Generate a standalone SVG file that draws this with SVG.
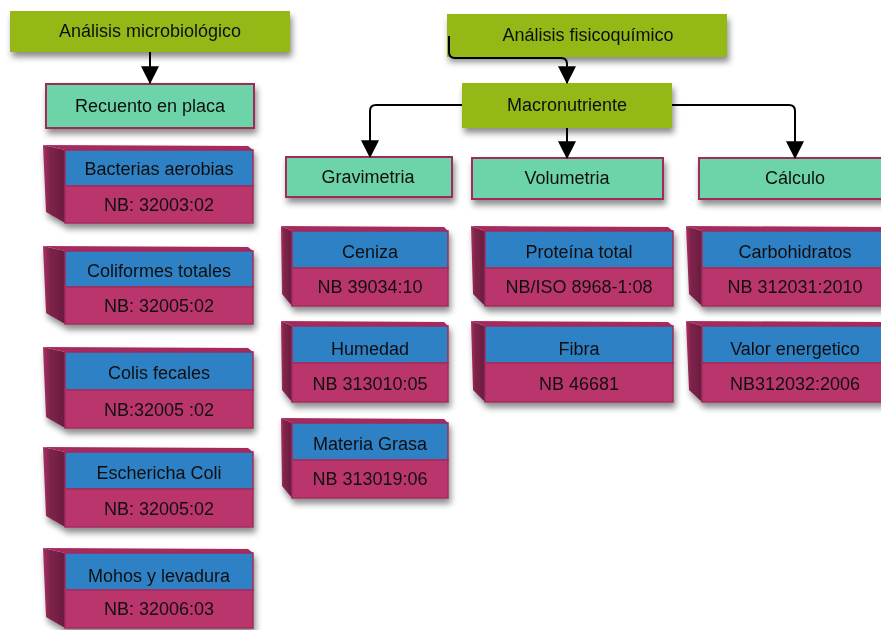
<svg xmlns="http://www.w3.org/2000/svg" width="881" height="630" viewBox="0 0 881 630">
  <defs>
    <filter id="shadow" x="-10%" y="-20%" width="125%" height="150%">
      <feDropShadow dx="2" dy="5" stdDeviation="3" flood-color="#000" flood-opacity="0.45"/>
    </filter>
    <linearGradient id="sideGrad" x1="0" y1="0" x2="1" y2="0">
      <stop offset="0" stop-color="#a8305f"/>
      <stop offset="0.35" stop-color="#7c2249"/>
      <stop offset="1" stop-color="#6a1d41"/>
    </linearGradient>
    <marker id="arrow" markerUnits="userSpaceOnUse" markerWidth="18" markerHeight="18" viewBox="0 0 16 16" refX="15" refY="8" orient="auto">
      <path d="M0,0 L16,8 L0,16 Z" fill="#000"/>
    </marker>
    <style>
      text { font-family: "Liberation Sans", Arial, sans-serif; fill: #111; text-anchor: middle; }
      .lbl { font-size: 18px; }
      .big { font-size: 18px; }
      .green { fill: #94b817; }
      .teal { fill: #6dd3a8; stroke: #a02c5c; stroke-width: 2; }
      .blue { fill: #2e81c4; stroke: #a02c5c; stroke-width: 1.5; }
      .pink { fill: #ba356c; stroke: #a02c5c; stroke-width: 1.5; }
      .side { fill: url(#sideGrad); }
      .top { fill: #a72c5f; }
      .link { fill: none; stroke: #000; stroke-width: 2; }
    </style>
  </defs>

  <!-- header boxes -->
  <g id="micro" filter="url(#shadow)">
    <rect class="green" x="10" y="11" width="280" height="41"/>
    <text class="lbl" x="150" y="37">Análisis microbiológico</text>
  </g>
  <g id="fisico" filter="url(#shadow)">
    <rect class="green" x="447" y="14" width="280" height="43"/>
    <text class="lbl" x="588" y="41">Análisis fisicoquímico</text>
  </g>
  <g id="macro" filter="url(#shadow)">
    <rect class="green" x="462" y="83" width="210" height="45"/>
    <text class="lbl" x="567" y="111">Macronutriente</text>
  </g>

  <!-- method boxes -->
  <g id="recuento" filter="url(#shadow)">
    <rect class="teal" x="46" y="84" width="208" height="44"/>
    <text class="lbl" x="150" y="112">Recuento en placa</text>
  </g>
  <g id="gravimetria" filter="url(#shadow)">
    <rect class="teal" x="286" y="157" width="166" height="40"/>
    <text class="lbl" x="368" y="183">Gravimetria</text>
  </g>
  <g id="volumetria" filter="url(#shadow)">
    <rect class="teal" x="472" y="158" width="191" height="41"/>
    <text class="lbl" x="567" y="184">Volumetria</text>
  </g>
  <g id="calculo" filter="url(#shadow)">
    <rect class="teal" x="699" y="158" width="194" height="41"/>
    <text class="lbl" x="795" y="184">Cálculo</text>
  </g>

  <!-- microbiological tests -->
  <g id="bacterias" filter="url(#shadow)">
    <polygon class="side" points="43,145 65,150 65,223 46,212"/>
    <polygon class="top" points="43,145 248,146 253,150 65,150"/>
    <rect class="blue" x="65" y="150" width="188" height="36"/>
    <rect class="pink" x="65" y="186" width="188" height="37"/>
    <text class="big" x="159" y="175">Bacterias aerobias</text>
    <text class="big" x="159" y="211">NB: 32003:02</text>
  </g>
  <g id="coliformes" filter="url(#shadow)">
    <polygon class="side" points="43,246 65,251 65,324 46,313"/>
    <polygon class="top" points="43,246 248,247 253,251 65,251"/>
    <rect class="blue" x="65" y="251" width="188" height="36"/>
    <rect class="pink" x="65" y="287" width="188" height="37"/>
    <text class="big" x="159" y="277">Coliformes totales</text>
    <text class="big" x="159" y="312">NB: 32005:02</text>
  </g>
  <g id="fecales" filter="url(#shadow)">
    <polygon class="side" points="43,347 65,352 65,428 46,417"/>
    <polygon class="top" points="43,347 248,348 253,352 65,352"/>
    <rect class="blue" x="65" y="352" width="188" height="38"/>
    <rect class="pink" x="65" y="390" width="188" height="38"/>
    <text class="big" x="159" y="379">Colis fecales</text>
    <text class="big" x="159" y="416">NB:32005 :02</text>
  </g>
  <g id="escherichia" filter="url(#shadow)">
    <polygon class="side" points="43,447 65,452 65,527 46,516"/>
    <polygon class="top" points="43,447 248,448 253,452 65,452"/>
    <rect class="blue" x="65" y="452" width="188" height="37"/>
    <rect class="pink" x="65" y="489" width="188" height="38"/>
    <text class="big" x="159" y="479">Eschericha Coli</text>
    <text class="big" x="159" y="515">NB: 32005:02</text>
  </g>
  <g id="mohos" filter="url(#shadow)">
    <polygon class="side" points="43,548 65,553 65,628 46,617"/>
    <polygon class="top" points="43,548 248,549 253,553 65,553"/>
    <rect class="blue" x="65" y="553" width="188" height="37"/>
    <rect class="pink" x="65" y="590" width="188" height="38"/>
    <text class="big" x="159" y="582">Mohos y levadura</text>
    <text class="big" x="159" y="615">NB: 32006:03</text>
  </g>

  <!-- gravimetric tests -->
  <g id="ceniza" filter="url(#shadow)">
    <polygon class="side" points="281,226 292,231 292,306 282,294"/>
    <polygon class="top" points="281,226 444,227 448,231 292,231"/>
    <rect class="blue" x="292" y="231" width="156" height="37"/>
    <rect class="pink" x="292" y="268" width="156" height="38"/>
    <text class="big" x="370" y="258">Ceniza</text>
    <text class="big" x="370" y="293">NB 39034:10</text>
  </g>
  <g id="humedad" filter="url(#shadow)">
    <polygon class="side" points="281,321 292,326 292,402 282,390"/>
    <polygon class="top" points="281,321 444,322 448,326 292,326"/>
    <rect class="blue" x="292" y="326" width="156" height="37"/>
    <rect class="pink" x="292" y="363" width="156" height="39"/>
    <text class="big" x="370" y="355">Humedad</text>
    <text class="big" x="370" y="390">NB 313010:05</text>
  </g>
  <g id="grasa" filter="url(#shadow)">
    <polygon class="side" points="281,418 292,423 292,498 282,486"/>
    <polygon class="top" points="281,418 444,419 448,423 292,423"/>
    <rect class="blue" x="292" y="423" width="156" height="37"/>
    <rect class="pink" x="292" y="460" width="156" height="38"/>
    <text class="big" x="370" y="450">Materia Grasa</text>
    <text class="big" x="370" y="485">NB 313019:06</text>
  </g>

  <!-- volumetric tests -->
  <g id="proteina" filter="url(#shadow)">
    <polygon class="side" points="471,226 485,231 485,306 473,294"/>
    <polygon class="top" points="471,226 668,227 673,231 485,231"/>
    <rect class="blue" x="485" y="231" width="188" height="37"/>
    <rect class="pink" x="485" y="268" width="188" height="38"/>
    <text class="big" x="579" y="258">Proteína total</text>
    <text class="big" x="579" y="293">NB/ISO 8968-1:08</text>
  </g>
  <g id="fibra" filter="url(#shadow)">
    <polygon class="side" points="471,321 485,326 485,402 473,390"/>
    <polygon class="top" points="471,321 668,322 673,326 485,326"/>
    <rect class="blue" x="485" y="326" width="188" height="37"/>
    <rect class="pink" x="485" y="363" width="188" height="39"/>
    <text class="big" x="579" y="355">Fibra</text>
    <text class="big" x="579" y="390">NB 46681</text>
  </g>

  <!-- calculated values -->
  <g id="carbohidratos" filter="url(#shadow)">
    <polygon class="side" points="686,226 702,231 702,306 689,294"/>
    <polygon class="top" points="686,226 884,227 889,231 702,231"/>
    <rect class="blue" x="702" y="231" width="188" height="37"/>
    <rect class="pink" x="702" y="268" width="188" height="38"/>
    <text class="big" x="795" y="258">Carbohidratos</text>
    <text class="big" x="795" y="293">NB 312031:2010</text>
  </g>
  <g id="energetico" filter="url(#shadow)">
    <polygon class="side" points="686,321 702,326 702,402 689,390"/>
    <polygon class="top" points="686,321 884,322 889,326 702,326"/>
    <rect class="blue" x="702" y="326" width="188" height="37"/>
    <rect class="pink" x="702" y="363" width="188" height="39"/>
    <text class="big" x="795" y="355">Valor energetico</text>
    <text class="big" x="795" y="390">NB312032:2006</text>
  </g>

  <!-- connectors, drawn last so the elbow from the header stays visible over its box -->
  <g id="connectors">
    <path class="link" d="M150,52 V83" marker-end="url(#arrow)"/>
    <path class="link" d="M449,36 V52 Q449,58 455,58 H561 Q567,58 567,64 V83" marker-end="url(#arrow)"/>
    <path class="link" d="M462,105 H376 Q370,105 370,111 V157" marker-end="url(#arrow)"/>
    <path class="link" d="M567,128 V158" marker-end="url(#arrow)"/>
    <path class="link" d="M672,105 H789 Q795,105 795,111 V158" marker-end="url(#arrow)"/>
  </g>
</svg>
